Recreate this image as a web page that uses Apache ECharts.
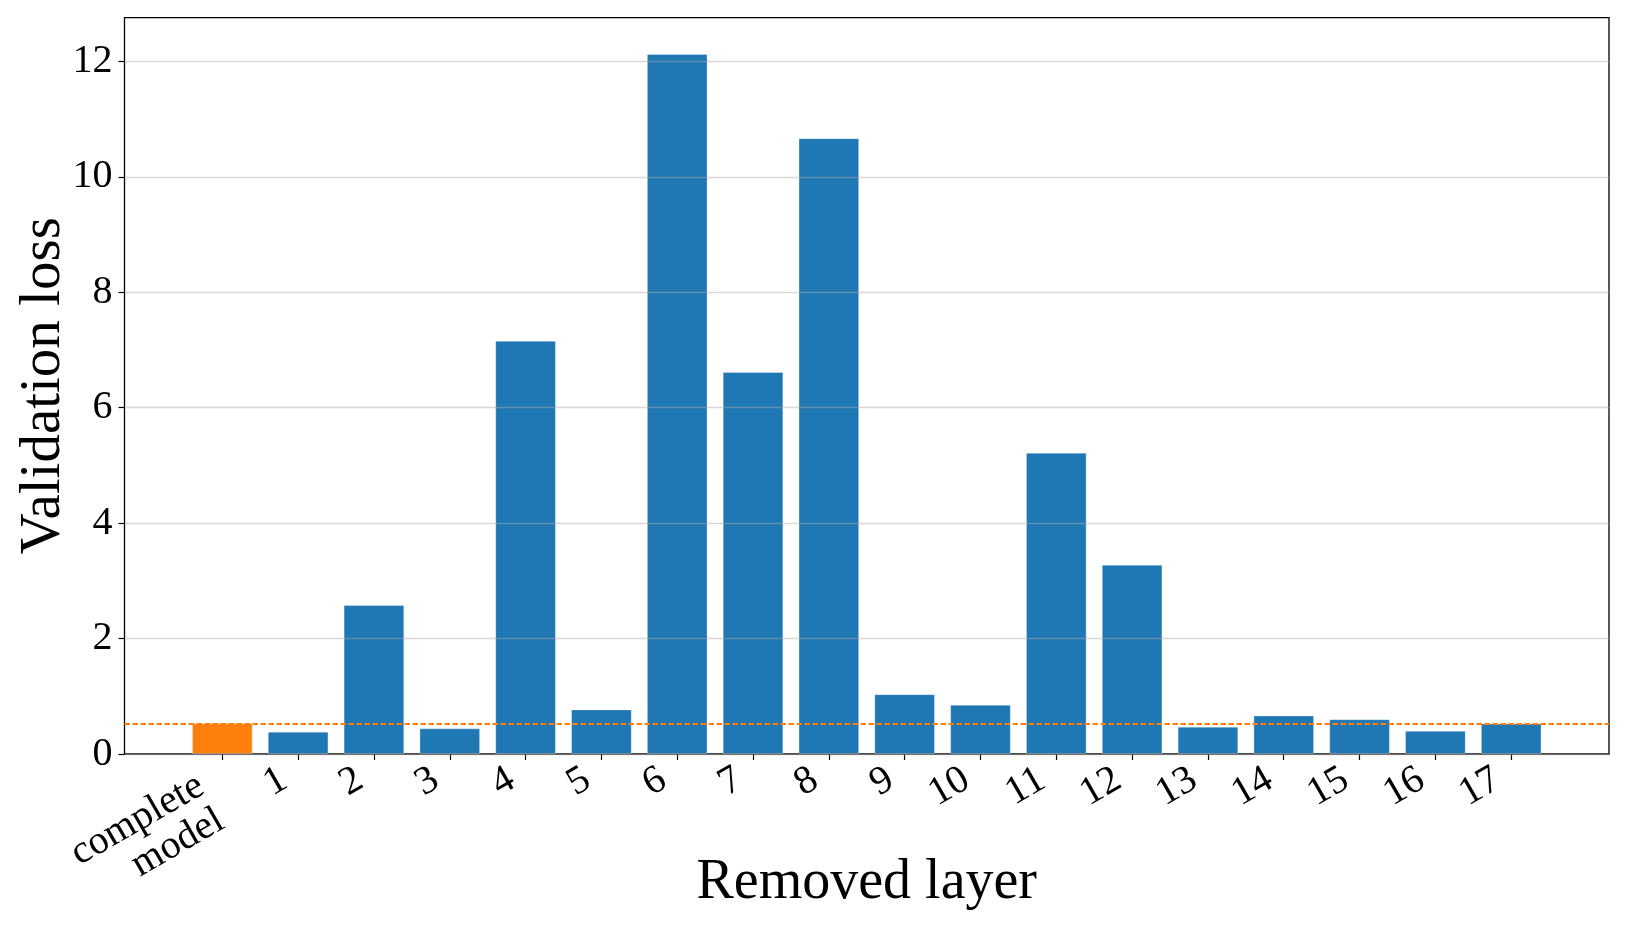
<!DOCTYPE html>
<html>
<head>
<meta charset="utf-8">
<script src="https://cdn.jsdelivr.net/npm/echarts@6/dist/echarts.min.js"></script>
<style>
html,body{margin:0;padding:0;background:#fff;}
#chart{width:1627px;height:930px;}
</style>
</head>
<body>
<div id="chart"></div>
<script>
const categories = ['complete\nmodel','1','2','3','4','5','6','7','8','9','10','11','12','13','14','15','16','17'];
const losses = [0.533, 0.387, 2.58, 0.445, 7.16, 0.773, 12.13, 6.62, 10.67, 1.037, 0.855, 5.22, 3.28, 0.474, 0.668, 0.603, 0.404, 0.527];
const yTicks = [0, 2, 4, 6, 8, 10, 12];
const baselineLoss = losses[0];

const FONT = '"Liberation Serif", "DejaVu Serif", serif';
const chart = echarts.init(document.getElementById('chart'), null, {renderer: 'canvas'});

const gridLeft = 124.5, gridRight = 18, gridTop = 17.6, gridBottom = 176;
const xMin = -1.29, xMax = categories.length - 1 + 1.29;
const gridW = 1627 - gridLeft - gridRight;
const barPx = gridW / (xMax - xMin) * 0.8;
const allIdx = categories.map((c, i) => i);
const layerIdx = allIdx.slice(1);

const labelBase = {fontFamily: FONT, fontSize: 40, color: '#000', lineHeight: 40, align: 'right', rotate: 30,
  formatter: v => categories[Math.round(v)]};

chart.setOption({
  animation: false,
  backgroundColor: '#fff',
  grid: {left: gridLeft, right: gridRight, top: gridTop, bottom: gridBottom, show: true,
         borderColor: '#000', borderWidth: 1.3, backgroundColor: 'transparent',
         outerBoundsMode: 'none', containLabel: false},
  xAxis: [{
    type: 'value', min: xMin, max: xMax, position: 'bottom',
    name: 'Removed layer', nameLocation: 'middle', nameGap: 101, nameMoveOverlap: false,
    nameTextStyle: {fontFamily: FONT, fontSize: 56, color: '#000'},
    axisLine: {show: false, onZero: false},
    splitLine: {show: false},
    axisTick: {show: true, customValues: allIdx, length: 6, lineStyle: {color: '#000', width: 1.2}},
    axisLabel: Object.assign({}, labelBase, {customValues: layerIdx, margin: 15, padding: [0, 16, 0, 0]})
  }, {
    type: 'value', min: xMin, max: xMax, position: 'bottom', offset: 0,
    axisLine: {show: false, onZero: false},
    splitLine: {show: false},
    axisTick: {show: false},
    axisLabel: Object.assign({}, labelBase, {customValues: [0], margin: 40, padding: [0, 13, 0, 0]})
  }],
  yAxis: {
    type: 'value', min: 0, max: 12.76, interval: 2, z: 5,
    name: 'Validation loss', nameLocation: 'middle', nameGap: 52, nameRotate: 90, nameMoveOverlap: false,
    nameTextStyle: {fontFamily: FONT, fontSize: 57, color: '#000'},
    axisLine: {show: false, onZero: false},
    axisTick: {show: true, customValues: yTicks, length: 6, lineStyle: {color: '#000', width: 1.2}},
    axisLabel: {fontFamily: FONT, fontSize: 40, color: '#000', margin: 12,
      customValues: yTicks, formatter: v => String(v)},
    splitLine: {show: true, lineStyle: {color: 'rgba(170,170,170,0.45)', width: 1.3}}
  },
  series: [{
    type: 'bar',
    xAxisIndex: 0,
    barWidth: barPx,
    data: losses.map((v, i) => ({value: [i, v], itemStyle: {color: i === 0 ? '#ff7f0e' : '#1f77b4'}})),
    itemStyle: {borderColor: 'rgba(255,255,255,0.3)', borderWidth: 1},
    markLine: {
      silent: true, symbol: 'none', label: {show: false},
      lineStyle: {color: '#ff7f0e', type: [5.5, 2.5], width: 1.8},
      data: [{yAxis: baselineLoss}]
    }
  }]
});
</script>
</body>
</html>
